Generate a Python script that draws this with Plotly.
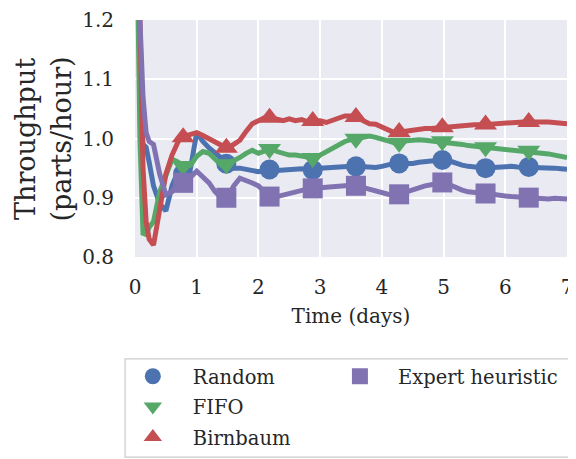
import numpy as np
import plotly.graph_objects as go

# ---------------- data ----------------
T = [0.03, 0.08, 0.13, 0.18, 0.23, 0.3, 0.4, 0.5, 0.6, 0.7, 0.8, 0.9,
     1.0, 1.1, 1.2, 1.3, 1.4, 1.5, 1.6, 1.7, 1.8, 1.9,
     2.0, 2.1, 2.2, 2.3, 2.4, 2.5, 2.6, 2.7, 2.8, 2.9,
     3.0, 3.1, 3.2, 3.3, 3.4, 3.5, 3.6, 3.7, 3.8, 3.9,
     4.0, 4.1, 4.2, 4.3, 4.4, 4.5, 4.6, 4.7, 4.8, 4.9,
     5.0, 5.1, 5.2, 5.3, 5.4, 5.5, 5.6, 5.7, 5.8, 5.9,
     6.0, 6.1, 6.2, 6.3, 6.4, 6.5, 6.6, 6.7, 6.8, 6.9, 7.0]

random_vals = [1.40, 1.10, 0.990, 0.985, 0.960, 0.920, 0.890, 0.878, 0.920, 0.945, 0.940, 0.950,
               1.010, 0.995, 0.984, 0.975, 0.967, 0.955, 0.950, 0.950, 0.948, 0.945,
               0.944, 0.946, 0.948, 0.946, 0.947, 0.948, 0.950, 0.949, 0.947, 0.947,
               0.950, 0.951, 0.952, 0.951, 0.952, 0.953, 0.953, 0.952, 0.950, 0.951,
               0.953, 0.956, 0.958, 0.958, 0.957, 0.958, 0.960, 0.961, 0.962, 0.963,
               0.964, 0.962, 0.958, 0.955, 0.953, 0.952, 0.950, 0.950, 0.951, 0.952,
               0.953, 0.953, 0.952, 0.952, 0.952, 0.951, 0.950, 0.950, 0.950, 0.949, 0.948]

fifo_vals = [1.35, 1.00, 0.840, 0.838, 0.850, 0.860, 0.910, 0.935, 0.965, 0.960, 0.952, 0.955,
             0.970, 0.978, 0.975, 0.965, 0.955, 0.957, 0.962, 0.968, 0.975, 0.980,
             0.975, 0.980, 0.983, 0.978, 0.975, 0.972, 0.972, 0.970, 0.967, 0.967,
             0.972, 0.978, 0.985, 0.990, 0.995, 0.998, 1.000, 1.003, 1.004, 1.002,
             1.000, 0.996, 0.993, 0.993, 0.996, 0.998, 0.998, 0.997, 0.996, 0.996,
             0.995, 0.993, 0.991, 0.990, 0.988, 0.987, 0.986, 0.985, 0.984, 0.983,
             0.982, 0.981, 0.980, 0.980, 0.979, 0.977, 0.976, 0.974, 0.972, 0.970, 0.968]

birnbaum_vals = [1.45, 1.15, 0.950, 0.860, 0.830, 0.820, 0.880, 0.940, 0.972, 0.995, 1.004, 1.008,
                 1.010, 1.005, 1.000, 0.995, 0.990, 0.983, 0.990, 0.997, 1.012, 1.025,
                 1.030, 1.035, 1.035, 1.033, 1.030, 1.033, 1.030, 1.032, 1.028, 1.030,
                 1.030, 1.027, 1.030, 1.035, 1.038, 1.038, 1.036, 1.030, 1.025, 1.024,
                 1.020, 1.014, 1.010, 1.011, 1.013, 1.015, 1.016, 1.017, 1.017, 1.018,
                 1.019, 1.020, 1.021, 1.023, 1.024, 1.023, 1.023, 1.024, 1.025, 1.026,
                 1.026, 1.027, 1.027, 1.028, 1.028, 1.029, 1.028, 1.028, 1.027, 1.026, 1.025]

expert_vals = [1.60, 1.20, 1.070, 1.010, 0.995, 0.990, 0.940, 0.905, 0.910, 0.926, 0.925, 0.935,
               0.945, 0.935, 0.925, 0.910, 0.900, 0.900, 0.920, 0.933, 0.930, 0.925,
               0.920, 0.910, 0.900, 0.902, 0.905, 0.907, 0.910, 0.913, 0.915, 0.916,
               0.917, 0.919, 0.920, 0.921, 0.922, 0.921, 0.920, 0.917, 0.913, 0.910,
               0.908, 0.906, 0.905, 0.906, 0.910, 0.914, 0.917, 0.920, 0.922, 0.925,
               0.926, 0.922, 0.917, 0.913, 0.910, 0.910, 0.908, 0.907, 0.905, 0.904,
               0.903, 0.902, 0.901, 0.901, 0.900, 0.898, 0.898, 0.898, 0.899, 0.899, 0.898]

# marker positions (every 0.7 days, like matplotlib markevery)
MARK_T = [0.78, 1.48, 2.18, 2.88, 3.58, 4.28, 4.98, 5.68, 6.38]

X_TICKS = [0, 1, 2, 3, 4, 5, 6, 7]
Y_TICKS = [0.8, 0.9, 1.0, 1.1, 1.2]
Y_TITLE = "Throughput<br>(parts/hour)"
X_TITLE = "Time (days)"

series = [
    ("Random", random_vals, "#4C72B0", "circle", "legend"),
    ("FIFO", fifo_vals, "#55A868", "triangle-down", "legend"),
    ("Birnbaum", birnbaum_vals, "#C44E52", "triangle-up", "legend"),
    ("Expert heuristic", expert_vals, "#8172B2", "square", "legend2"),
]

FONT = "DejaVu Serif"
fig = go.Figure()
for name, vals, color, sym, leg in series:
    fig.add_trace(go.Scatter(
        x=T, y=vals, mode="lines", line=dict(color=color, width=5),
        showlegend=False, legendgroup=name, hoverinfo="skip"))
    my = np.interp(MARK_T, T, vals)
    fig.add_trace(go.Scatter(
        x=MARK_T, y=my, mode="markers", name=name, legendgroup=name, legend=leg,
        marker=dict(color=color, symbol=sym, size=20, line=dict(width=0))))

fig.update_layout(
    width=576, height=459,
    margin=dict(l=127, r=17, t=12, b=210, autoexpand=False),
    paper_bgcolor="white",
    plot_bgcolor="#EAEAF2",
    font=dict(family=FONT, size=20, color="#262626"),
    xaxis=dict(range=[0, 7], tickvals=X_TICKS, showgrid=True, gridcolor="white",
               gridwidth=2, zeroline=False, showline=False, ticks="",
               ticklabelstandoff=16, tickfont=dict(size=20),
               title=dict(text=X_TITLE, font=dict(size=20), standoff=10)),
    yaxis=dict(range=[0.8, 1.2], tickvals=Y_TICKS, tickformat=".1f", showgrid=True,
               gridcolor="white", gridwidth=2, zeroline=False, showline=False, ticks="",
               ticklabelstandoff=20, tickfont=dict(size=20)),
    legend=dict(x=0.182, y=0.2395, xref="container", yref="container",
                xanchor="left", yanchor="top",
                bgcolor="rgba(0,0,0,0)", borderwidth=0, tracegroupgap=2,
                font=dict(size=19.5), itemwidth=70),
    legend2=dict(x=0.545, y=0.2395, xref="container", yref="container",
                 xanchor="left", yanchor="top",
                 bgcolor="rgba(0,0,0,0)", borderwidth=0,
                 font=dict(size=19.5), itemwidth=66),
    shapes=[dict(type="rect", xref="paper", yref="paper",
                 x0=-0.023, x1=1.03, y0=-0.844, y1=-0.43,
                 line=dict(color="#CCCCCC", width=1.2), fillcolor="white", layer="below")],
    annotations=[dict(text=Y_TITLE, xref="paper", yref="paper", x=-0.213, y=0.5,
                      xanchor="center", yanchor="middle", textangle=-90,
                      showarrow=False, font=dict(size=27, family=FONT, color="#262626"))],
)

fig.write_html("out.html")
